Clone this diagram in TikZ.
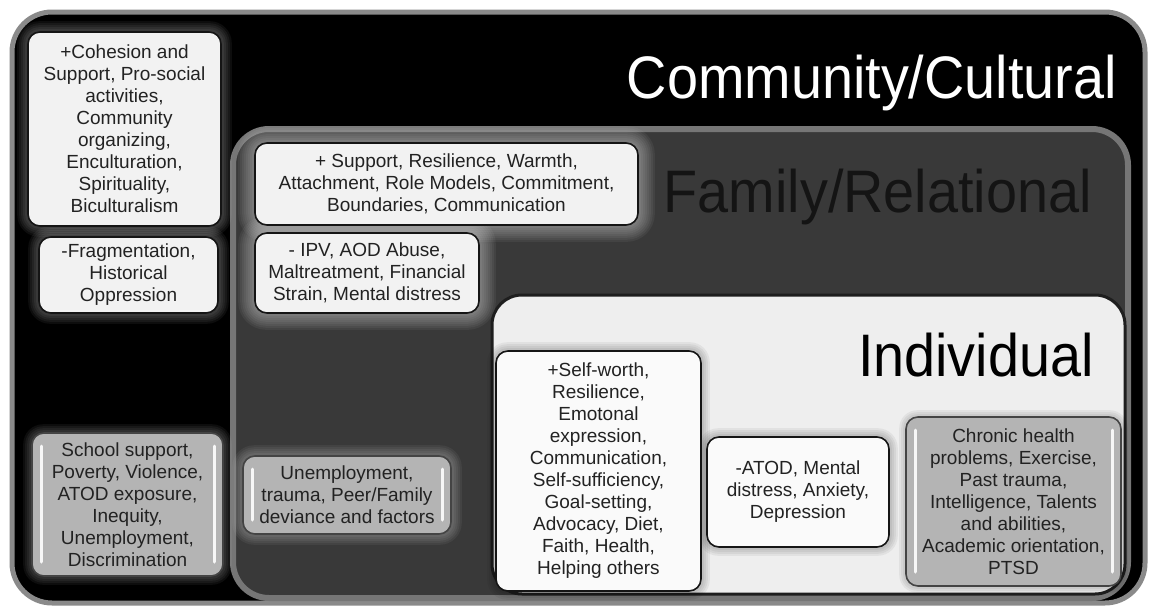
\documentclass[tikz,border=0pt]{standalone}
\usepackage{fontspec}
\setmainfont{Liberation Sans}
\newfontfamily\titlefont[FakeStretch=0.93]{Liberation Sans}
\usetikzlibrary{calc}
\definecolor{txt}{HTML}{222222}
\definecolor{wfill}{HTML}{F2F2F2}
\definecolor{wfillb}{HTML}{FAFAFA}
\definecolor{gfill}{HTML}{B4B4B4}
\definecolor{boxline}{HTML}{151515}
\definecolor{outerline}{HTML}{8A8A8A}
\definecolor{famfill}{HTML}{393939}
\definecolor{famline}{HTML}{767676}
\definecolor{indfill}{HTML}{EEEEEE}
\definecolor{indline}{HTML}{1E1E1E}
\definecolor{famtitle}{HTML}{141414}
\pgfdeclarelayer{bg}
\pgfdeclarelayer{glow}
\pgfsetlayers{bg,glow,main}
\newcommand\glowaround[3]{%
  \foreach \g in {2,4,...,#3}{%
    \pgfmathsetmacro\rr{12+\g}%
    \fill[#2, opacity=0.05, rounded corners=\rr pt]
      ($(#1.south west)+(-\g pt,-\g pt)$) rectangle ($(#1.north east)+(\g pt,\g pt)$);
  }%
}
\tikzset{
  box/.style={draw=boxline, line width=1.6pt, rounded corners=12pt, align=center,
    inner sep=2pt, font=\fontsize{19}{22}\selectfont, text=txt},
  wbox/.style={box, fill=wfill},
  wboxb/.style={box, fill=wfillb},
  gbox/.style={box, fill=gfill, draw=boxline!80,
    path picture={
      \draw[white, line width=3pt, line cap=round, opacity=0.9]
        ($(path picture bounding box.north west)+(9pt,-13pt)$) --
        ($(path picture bounding box.south west)+(9pt,14pt)$);
      \draw[white, line width=3pt, line cap=round, opacity=0.9]
        ($(path picture bounding box.north east)+(-9pt,-13pt)$) --
        ($(path picture bounding box.south east)+(-9pt,14pt)$);
    }},
  titletext/.style={font=\titlefont\fontsize{60}{60}\selectfont, inner sep=0pt, anchor=base east}
}
\begin{document}
\begin{tikzpicture}[x=1pt,y=-1pt]
\useasboundingbox (0,0) rectangle (1152,608);
\begin{pgfonlayer}{bg}
\fill[white] (0,0) rectangle (1152,608);
% outer frame
\draw[outerline, line width=5pt, fill=black, rounded corners=40pt] (12,12) rectangle (1145,603);
% family frame
\draw[famline, line width=6pt, fill=famfill, rounded corners=36pt] (233,129) rectangle (1128,598);
% individual frame
\draw[indline, line width=3pt, fill=indfill, rounded corners=30pt] (492,295) rectangle (1125,594);
\end{pgfonlayer}

% titles
\node[titletext, text=white] (tcomm) at (1117,98) {Community/Cultural};
\node[titletext, text=famtitle] (tfam) at (1092,212) {Family/Relational};
\node[titletext, text=black] (tind) at (1094,376) {Individual};

% community boxes
\node[wbox, minimum width=193pt, minimum height=194pt] (b1) at (124.5,129)
  {+Cohesion and\\Support, Pro-social\\activities,\\Community\\organizing,\\Enculturation,\\Spirituality,\\Biculturalism};
\node[wbox, minimum width=179pt, minimum height=76pt] (b2) at (128.5,275)
  {-Fragmentation,\\Historical\\Oppression};
\node[gbox, minimum width=191pt, minimum height=143pt] (b3) at (127.5,504.5)
  {School support,\\Poverty, Violence,\\ATOD exposure,\\Inequity,\\Unemployment,\\Discrimination};

% family boxes
\node[wbox, minimum width=383pt, minimum height=82pt] (b4) at (446.5,184)
  {+ Support, Resilience, Warmth,\\Attachment, Role Models, Commitment,\\Boundaries, Communication};
\node[wbox, minimum width=224pt, minimum height=80pt] (b5) at (367,273)
  {- IPV, AOD Abuse,\\Maltreatment, Financial\\Strain, Mental distress};
\node[gbox, minimum width=208pt, minimum height=78pt] (b6) at (347,495)
  {Unemployment,\\trauma, Peer/Family\\deviance and factors};

% individual boxes
\node[wboxb, minimum width=205pt, minimum height=240pt] (b7) at (598.5,471)
  {+Self-worth,\\Resilience,\\Emotonal\\expression,\\Communication,\\Self-sufficiency,\\Goal-setting,\\Advocacy, Diet,\\Faith, Health,\\Helping others};
\node[wboxb, minimum width=182pt, minimum height=110pt] (b8) at (798,492)
  {-ATOD, Mental\\distress, Anxiety,\\Depression};
\node[gbox, minimum width=215pt, minimum height=169pt] (b9) at (1013.5,501.5)
  {Chronic health\\problems, Exercise,\\Past trauma,\\Intelligence, Talents\\and abilities,\\Academic orientation,\\PTSD};

\begin{pgfonlayer}{glow}
\glowaround{b1}{white}{10}
\glowaround{b2}{white}{10}
\glowaround{b3}{white}{8}
\glowaround{b4}{white}{16}
\glowaround{b5}{white}{16}
\glowaround{b6}{white}{10}
\glowaround{b7}{black}{8}
\glowaround{b8}{black}{8}
\glowaround{b9}{black}{6}
\end{pgfonlayer}
\end{tikzpicture}
\end{document}
